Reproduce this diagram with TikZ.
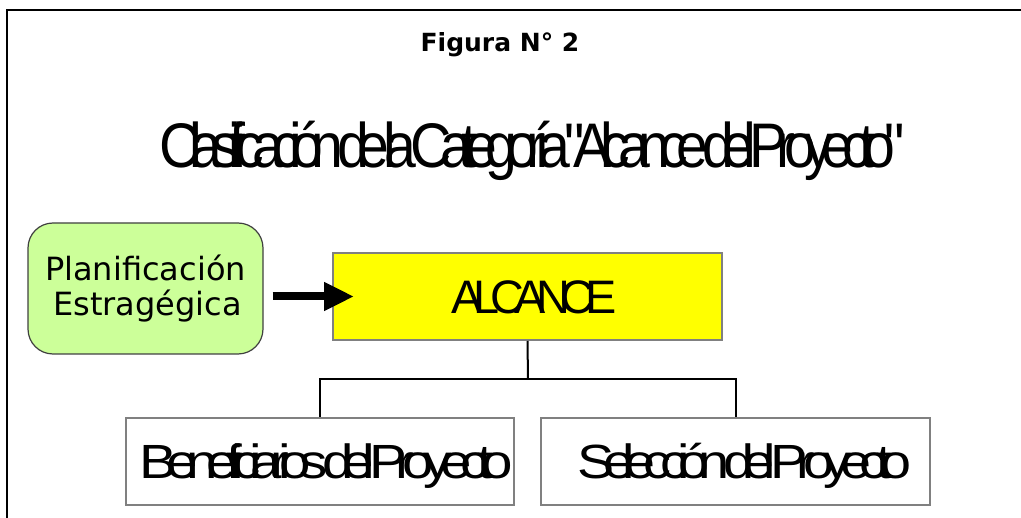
\documentclass[tikz,border=0pt]{standalone}
\usepackage{fontspec}
\setmainfont{Liberation Sans}
\newfontfamily\verd{DejaVu Sans}
\newfontfamily\squeezed[LetterSpace=-20]{Liberation Sans}
\usetikzlibrary{arrows.meta,calc}
\definecolor{boxgray}{HTML}{808080}
\definecolor{lgreen}{HTML}{CCFF99}
\definecolor{pureyellow}{HTML}{FFFF00}
\newcommand{\fitw}[3]{\resizebox{#1}{\height}{\fontsize{#2}{#2}\squeezed #3}}
\newcommand{\ws}{\hspace{-0.18em}}
\tikzset{
  grayBox/.style={draw=boxgray, line width=2pt, inner sep=0pt, text height=34pt, text depth=0pt},
  conn/.style={draw=black, line width=2pt},
  bigArrow/.style={line width=8pt, -{Triangle[length=30pt,width=27pt]}}
}
\begin{document}
\begin{tikzpicture}[x=1pt,y=-1pt]
\useasboundingbox (0,0) rectangle (1021,518);
\clip (0,0) rectangle (1021,518);
\draw[line width=2.5pt] (1030,10) -- (7,10) -- (7,530);
\node[font={\verd\bfseries\fontsize{25}{30}\selectfont}, anchor=base] (fig) at (500,52) {Figura N° 2};
\node[anchor=base, inner sep=0pt] (title) at (532,168) {\fitw{745pt}{63}{Clasificación\ws{} de\ws{} la\ws{} Categoría\ws{} "Alcance\ws{} del\ws{} Proyecto"}};
\node[draw=black!75, line width=1.2pt, fill=lgreen, rounded corners=25pt, minimum width=235pt, minimum height=131pt, inner sep=0pt, align=center, font={\verd\fontsize{32}{35}\selectfont}] (plan) at (145.5,288.5) {Planificación\\\hspace*{4pt}Estragégica};
\node[grayBox, fill=pureyellow, minimum width=389pt, minimum height=87pt] (alc) at (527.5,296.5) {\hspace*{13pt}\fitw{165pt}{47}{ALCANCE}};
\node[grayBox, fill=white, minimum width=388pt, minimum height=87pt] (ben) at (320,461.5) {\hspace*{13pt}\fitw{373pt}{48}{Beneficiarios\ws{} del\ws{} Proyecto}};
\node[grayBox, fill=white, minimum width=389pt, minimum height=87pt] (sel) at (735.5,461.5) {\hspace*{18pt}\fitw{335pt}{48}{Selección\ws{} del\ws{} Proyecto}};
\coordinate (bus) at (528,379);
\draw[conn] (alc.south) -- (bus);
\draw[conn] (ben.north) |- (bus) -| (sel.north);
\draw[bigArrow] ($(plan.east |- alc.west)+(9,0)$) -- ($(alc.west)+(22,0)$);
\end{tikzpicture}
\end{document}
